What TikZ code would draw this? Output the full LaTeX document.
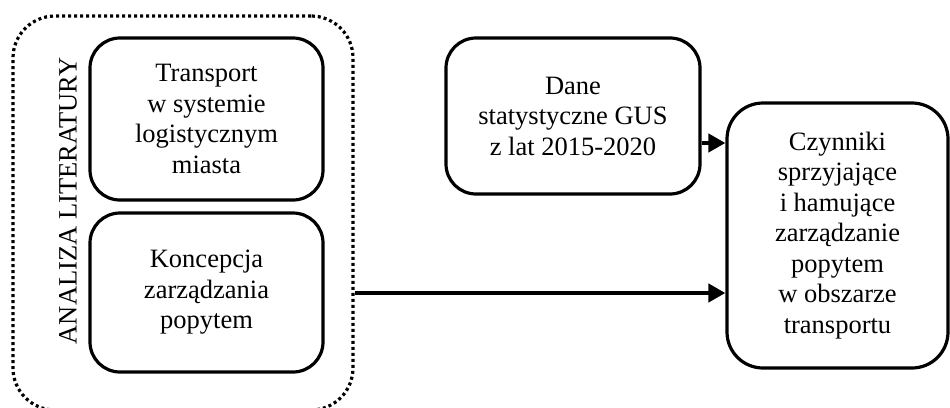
\documentclass[tikz,border=0pt]{standalone}
\usepackage{fontspec}
\setmainfont{Liberation Serif}
\usetikzlibrary{arrows.meta}
\begin{document}
\begin{tikzpicture}[x=1pt,y=-1pt,
  box/.style={draw,line width=3.2pt,rounded corners=30pt,align=center,inner sep=0pt,
    font=\fontsize{26.5}{30.5}\selectfont},
  outerbox/.style={draw,line width=3.2pt,rounded corners=42pt,dash pattern=on 3pt off 3pt,inner sep=0pt},
  conn/.style={line width=4.5pt,-{Triangle[length=17pt,width=18pt]}}]
\useasboundingbox (0,0) rectangle (950,407);
\node[outerbox,minimum width=340pt,minimum height=394pt] (lit) at (183,213) {};
\node[rotate=90,font=\fontsize{26.5}{30}\selectfont] (littxt) at (68,201) {ANALIZA LITERATURY};
\node[box,minimum width=233pt,minimum height=162pt] (tr) at (206.5,119)
  {Transport\\w systemie\\logistycznym\\miasta};
\node[box,minimum width=233pt,minimum height=159pt] (kz) at (206.5,292.5)
  {Koncepcja\\zarządzania\\popytem};
\node[box,minimum width=254pt,minimum height=156pt] (gus) at (573,116)
  {Dane\\statystyczne GUS\\z lat 2015-2020};
\node[box,minimum width=221pt,minimum height=265pt,rounded corners=36pt] (cz) at (837.5,235.5)
  {Czynniki\\sprzyjające\\i hamujące\\zarządzanie\\popytem\\w obszarze\\transportu};
\draw[conn] (gus.east |- 0,143) -- (cz.west |- 0,143);
\draw[conn] (lit.east |- 0,293) -- (cz.west |- 0,293);
\end{tikzpicture}
\end{document}
